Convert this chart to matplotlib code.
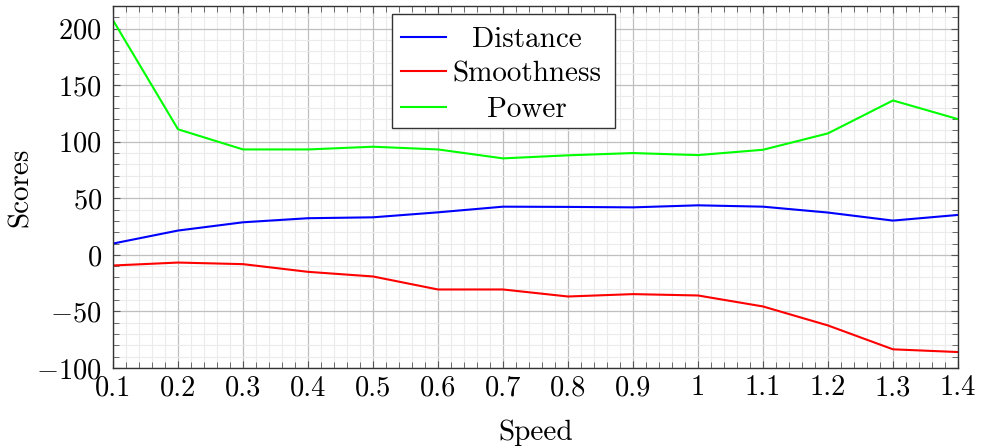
import matplotlib
matplotlib.use("Agg")
import matplotlib.pyplot as plt
from matplotlib.patches import Rectangle
from matplotlib.ticker import MultipleLocator
import numpy as np

plt.rcParams['font.family'] = 'cmr10'
plt.rcParams['mathtext.fontset'] = 'cm'
plt.rcParams['axes.formatter.use_mathtext'] = True

speed = [0.1, 0.2, 0.3, 0.4, 0.5, 0.6, 0.7, 0.8, 0.9, 1.0, 1.1, 1.2, 1.3, 1.4]
distance = [10, 21.5, 28.8, 32.4, 33.2, 37.6, 42.6, 42.4, 42.0, 43.8, 42.6, 37.4, 30.3, 35.3]
smoothness = [-9.4, -6.8, -8.2, -15, -19.1, -30.6, -30.6, -36.8, -34.7, -35.9, -45.6, -62.4, -83.5, -85.9]
power = [207.4, 111, 93.2, 93.2, 95.6, 93.2, 85.3, 88, 90, 88.2, 92.9, 107.4, 136.5, 120]

series = [("Distance", distance, "#0000ff"),
          ("Smoothness", smoothness, "#ff0000"),
          ("Power", power, "#00ff00")]

xtick_labels = ["0.1", "0.2", "0.3", "0.4", "0.5", "0.6", "0.7",
                "0.8", "0.9", "1", "1.1", "1.2", "1.3", "1.4"]
yticks = [-100, -50, 0, 50, 100, 150, 200]

fig = plt.figure(figsize=(9.88, 4.48), dpi=100)
ax = fig.add_axes([0.1144, 0.1786, 0.8552, 0.808])

for name, vals, col in series:
    ax.plot(speed, vals, color=col, lw=1.5, label=name)

ax.set_xlim(0.1, 1.4)
ax.set_ylim(-100, 220)
ax.set_xticks(speed)
ax.set_xticklabels(xtick_labels)
ax.set_yticks(yticks)
ax.xaxis.set_minor_locator(MultipleLocator(0.02))
ax.yaxis.set_minor_locator(MultipleLocator(10))

ax.grid(which='major', color='#bfbfbf', lw=0.9)
ax.grid(which='minor', color='#ebebeb', lw=0.8)
ax.set_axisbelow(True)

ax.tick_params(which='both', direction='in', top=True, right=True,
               labelsize=20.5, color='#555555')
ax.tick_params(which='major', length=5, width=0.8)
ax.tick_params(which='minor', length=4, width=0.6)
ax.tick_params(axis='x', pad=5)
ax.tick_params(axis='y', pad=8)
for s in ax.spines.values():
    s.set_color('#333333')
    s.set_linewidth(1.0)

ax.set_xlabel("Speed", fontsize=21, labelpad=13)
ax.set_ylabel("Scores", fontsize=21, labelpad=2)

# legend box, centred entries like pgfplots
ax.add_patch(Rectangle((0.330, 0.663), 0.264, 0.315, transform=ax.transAxes,
                       facecolor='white', edgecolor='#333333', lw=1.0, zorder=5))
ly = [0.915, 0.820, 0.722]
for (name, vals, col), y in zip(series, ly):
    ax.plot([0.341, 0.394], [y, y], color=col, lw=1.5, transform=ax.transAxes, zorder=6)
    ax.text(0.490, y, name, transform=ax.transAxes, ha='center', va='center_baseline',
            fontsize=21, zorder=6)

fig.savefig("out.png", dpi=100)
